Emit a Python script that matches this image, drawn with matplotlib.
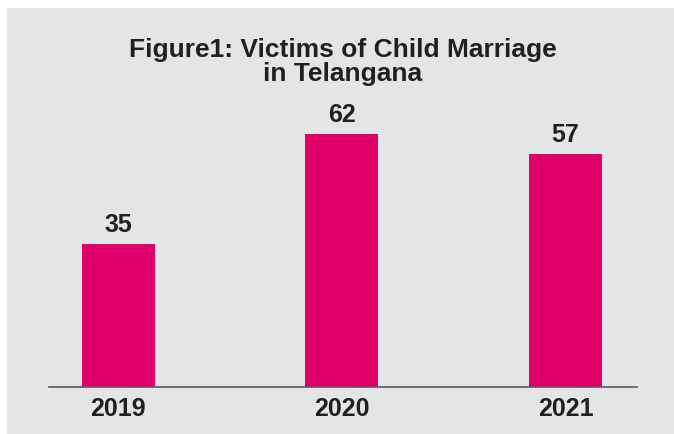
import matplotlib.pyplot as plt
from matplotlib.patches import Rectangle

years = ['2019', '2020', '2021']
victims = [35, 62, 57]

plt.rcParams['font.family'] = ['Liberation Sans', 'DejaVu Sans']

W, H = 674, 434
fig = plt.figure(figsize=(W / 100, H / 100), dpi=100)
fig.patch.set_facecolor('white')
# gray panel with a thin white strip on top and left
fig.patches.append(Rectangle((7 / W, -0.01), 1.01, 1.01 - 8 / H, transform=fig.transFigure,
                             facecolor='#e4e5e6', edgecolor='none', zorder=-5))

ax = fig.add_axes([49 / W, 47 / H, (637 - 49) / W, (387 - 110) / H])
ax.set_facecolor('none')

x = range(len(years))
bars = ax.bar(x, victims, width=0.326, color='#e1006a', zorder=2)
for b, v in zip(bars, victims):
    ax.annotate(str(v), (b.get_x() + b.get_width() / 2, v), xytext=(0, 5),
                textcoords='offset points', ha='center', va='bottom',
                fontsize=18, fontweight='bold', color='#231f20')

ax.set_xlim(-0.31, 2.32)
ax.set_ylim(0, 62 * 277 / 253)
ax.set_xticks(list(x))
ax.set_xticklabels(years, fontsize=18, fontweight='bold', color='#231f20')
ax.tick_params(axis='x', length=0, pad=7)
ax.set_yticks([])
for s in ['top', 'right', 'left']:
    ax.spines[s].set_visible(False)
ax.spines['bottom'].set_color('#58595b')
ax.spines['bottom'].set_linewidth(1.2)

fig.text(343 / W, 1 - 62 / H, 'Figure1: Victims of Child Marriage\nin Telangana',
         ha='center', va='center', fontsize=19, fontweight='bold',
         color='#231f20', linespacing=1.0)

fig.savefig('out.png', dpi=100)
